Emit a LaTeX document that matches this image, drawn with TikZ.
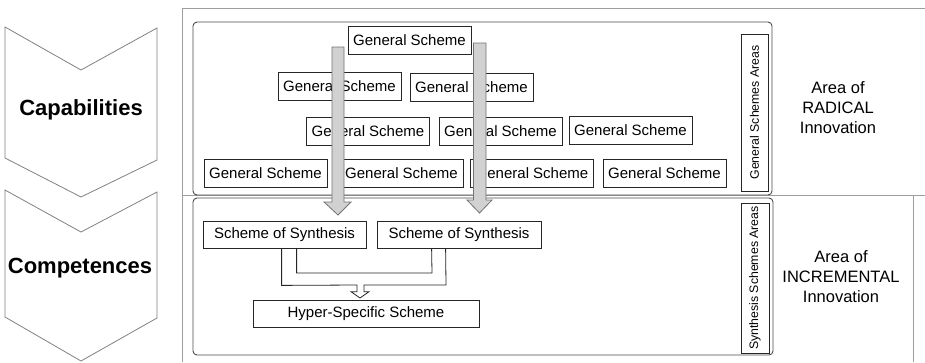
\documentclass[tikz,border=0pt]{standalone}
\usepackage{fontspec}
\setmainfont{Liberation Sans}
\begin{document}
\begin{tikzpicture}[x=1pt,y=-1pt,
  frameline/.style={draw=black!38, line width=1pt},
  chev/.style={draw=black!50, line width=0.8pt, fill=white},
  chevtext/.style={font=\fontsize{22}{26}\selectfont\bfseries, text=black},
  areabox/.style={draw=black!70, line width=0.9pt, rounded corners=4pt, fill=white},
  gs/.style={draw=black!85, line width=0.8pt, minimum width=123pt, minimum height=28pt, inner sep=0pt, font=\fontsize{15}{18}\selectfont},
  syn/.style={draw=black!85, line width=0.8pt, minimum height=27pt, inner sep=0pt, font=\fontsize{15}{18}\selectfont},
  vlabel/.style={draw=black!85, line width=0.8pt, inner sep=0pt, rotate=90, font=\fontsize{12.3}{14}\selectfont},
  arealabel/.style={align=center, font=\fontsize{16.5}{20}\selectfont},
  blockarrow/.style={draw=black!55, line width=0.8pt, fill=black!18},
  merge/.style={draw=black!85, line width=0.8pt, fill=none}
]
\useasboundingbox (0,0) rectangle (925,362);

% outer frame (table lines)
\draw[frameline] (182,362) -- (182,8) -- (925,8);
\draw[frameline] (182,195.5) -- (925,195.5);
\draw[frameline] (913,195.5) -- (913,362);

% chevrons
\draw[chev] (5,27) -- (81,70) -- (157,28) -- (157,160) -- (81,197) -- (5,158) -- cycle;
\draw[chev] (5,190) -- (81,232) -- (157,192) -- (157,318) -- (81,361) -- (5,317) -- cycle;
\node[chevtext] (cap) at (81,110) {Capabilities};
\node[chevtext] (comp) at (80,268) {Competences};

% area boxes
\draw[areabox] (193,22) rectangle (772,195);
\draw[areabox] (193,198) rectangle (773,355);

% vertical labels
\node[vlabel, minimum width=157pt, minimum height=27pt] (gsa) at (754.5,112.5) {General Schemes Areas};
\node[vlabel, minimum width=150pt, minimum height=28pt] (ssa) at (755,278) {Synthesis Schemes Areas};

% right labels
\node[arealabel] (rad) at (838,108) {Area of\\RADICAL\\Innovation};
\node[arealabel] (inc) at (841,277) {Area of\\INCREMENTAL\\Innovation};

% general schemes
\node[gs] (g0)  at (409.5,40.5) {General Scheme};
\node[gs] (g1a) at (339.5,86)   {General Scheme};
\node[gs] (g1b) at (471.5,87)   {General Scheme};
\node[gs] (g2a) at (368,131)    {General Scheme};
\node[gs] (g2b) at (500.5,131)  {General Scheme};
\node[gs] (g2c) at (630.5,130)  {General Scheme};
\node[gs] (g3a) at (265.5,173.5) {General Scheme};
\node[gs] (g3b) at (401.5,173.5) {General Scheme};
\node[gs] (g3c) at (532,173.5)   {General Scheme};
\node[gs] (g3d) at (664.5,173.5) {General Scheme};

% synthesis schemes
\node[syn, minimum width=163pt] (ss1) at (284.5,234.5) {Scheme of Synthesis};
\node[syn, minimum width=164pt] (ss2) at (459,234.5) {Scheme of Synthesis};
\node[syn, minimum width=226pt] (hyp) at (366,313.5) {Hyper-Specific Scheme};

% merge connector
\draw[merge] ([xshift=79pt]ss1.south west) -- ++(0,37) -- (357,285) -- (357,291.7) -- (351,291.7)
  -- (360,298) -- (369,291.7) -- (364,291.7) -- (364,285) -- (446,285) -- ([xshift=69pt]ss2.south west);
\draw[merge] ([xshift=94pt]ss1.south west) |- (432,273) -- ([xshift=55pt]ss2.south west);

% block arrows
\coordinate (a1tip) at (338,215);
\coordinate (a2tip) at (479.5,213);
\draw[blockarrow] (332,47) -- (344,47) -- (344,202) -- (351,202) -- (a1tip) -- (324,202) -- (332,202) -- cycle;
\draw[blockarrow] (473.5,43) -- (486,43) -- (486,200) -- (492,200) -- (a2tip) -- (467,200) -- (473.5,200) -- cycle;
\end{tikzpicture}
\end{document}
